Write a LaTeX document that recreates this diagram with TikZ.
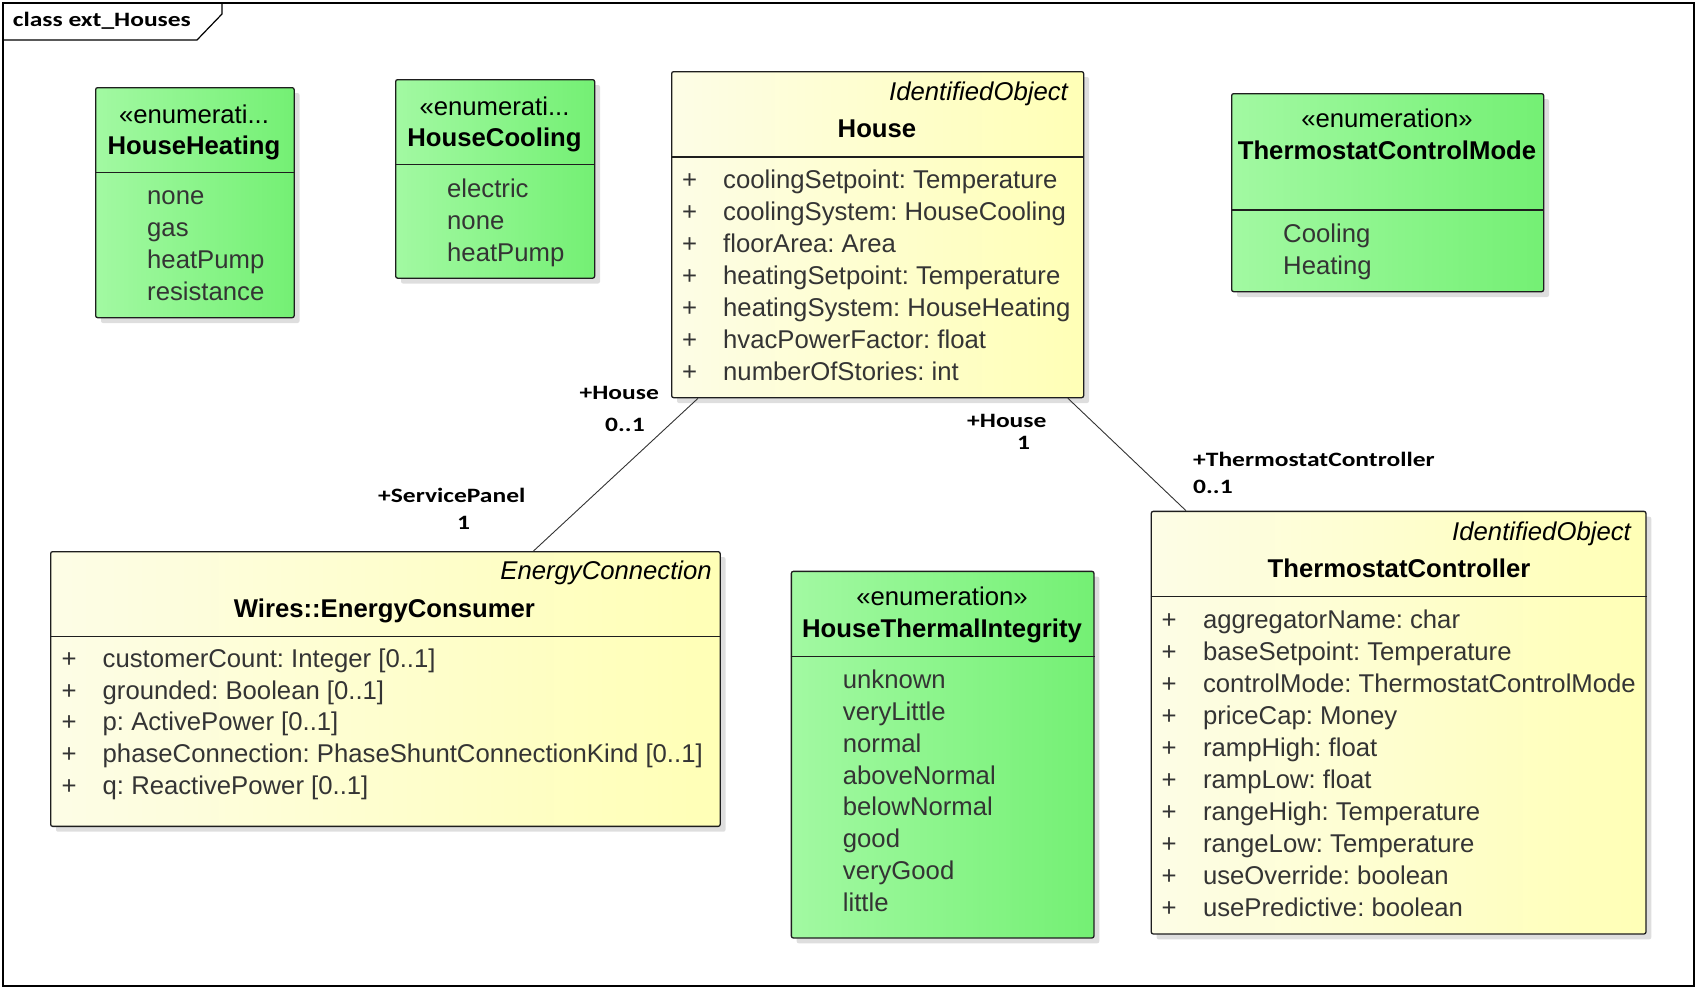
\documentclass[tikz,border=0pt]{standalone}
\usepackage{fontspec}
\usepackage{graphicx}
\setmainfont{Liberation Sans}
\newfontfamily\lblfont{Carlito}
\usetikzlibrary{calc}
\frenchspacing
\definecolor{enumL}{RGB}{162,249,162}
\definecolor{enumR}{RGB}{116,240,116}
\definecolor{clsL}{RGB}{253,253,230}
\definecolor{clsR}{RGB}{255,255,182}
\definecolor{itemc}{RGB}{52,52,52}
\definecolor{shadowc}{RGB}{222,222,222}
\definecolor{edgec}{RGB}{30,30,30}
\tikzset{
  t/.style={inner sep=0pt, font=\fontsize{25.7}{30}\selectfont},
  tl/.style={t, anchor=base west},
  tc/.style={t, anchor=base},
  tr/.style={t, anchor=base east},
  it/.style={tl, text=itemc},
  bx/.style={draw=edgec, line width=1.3pt, rounded corners=2pt, inner sep=0pt, anchor=north west},
  divst/.style={draw=edgec, line width=1.1pt},
  conn/.style={draw=black!80, line width=0.9pt},
  lbl/.style={inner sep=0pt, anchor=base west, font=\fontsize{20.4}{24}\selectfont\lblfont\bfseries},
}
\newcommand\lbltext[1]{\scalebox{1.25}[1]{#1}}
\newcommand\umlbox[7]{%
  \fill[shadowc, rounded corners=2pt] (#2+6,#3+6) rectangle (#2+#4+6,#3+#5+6);
  \node[bx, left color=#6, right color=#7, minimum width=#4, minimum height=#5] (#1) at (#2,#3) {};
}
\begin{document}
\begin{tikzpicture}[x=1pt, y=-1pt]
\useasboundingbox (0,0) rectangle (1696,988);
% frame
\draw[line width=1.2pt] (3,3) rectangle (1694,986);
\draw[line width=1.2pt] (3,40) -- (197,40) -- (222,14) -- (222,3);
\node[lbl] (title) at (12.7,26.7) {\lbltext{class ext\_Houses}};

% ---------- HouseHeating
\umlbox{hh}{95}{87}{198.5}{230}{enumL}{enumR}
\draw[divst] (hh.west |- 0,172.7) -- (hh.east |- 0,172.7);
\node[tc] (hhst) at (194,123) {«enumerati...};
\node[tc] (hhnm) at (194,154) {\bfseries HouseHeating};
\foreach \s [count=\i] in {none,gas,heatPump,resistance}
  \node[it] (hhi\i) at (147,{204+32*(\i-1)}) {\s};

% ---------- HouseCooling
\umlbox{hc}{395}{79}{199}{198.5}{enumL}{enumR}
\draw[divst] (hc.west |- 0,164.3) -- (hc.east |- 0,164.3);
\node[tc] (hcst) at (494.5,115) {«enumerati...};
\node[tc] (hcnm) at (494.5,146) {\bfseries HouseCooling};
\foreach \s [count=\i] in {electric,none,heatPump}
  \node[it] (hci\i) at (447,{197+32*(\i-1)}) {\s};

% ---------- House
\umlbox{house}{671}{71}{412}{326}{clsL}{clsR}
\draw[divst] (house.west |- 0,157) -- (house.east |- 0,157);
\node[tr] (housest) at (1068,100) {\itshape IdentifiedObject};
\node[tc] (housenm) at (877,137) {\bfseries House};
\foreach \s [count=\i] in {coolingSetpoint: Temperature,coolingSystem: HouseCooling,floorArea: Area,heatingSetpoint: Temperature,heatingSystem: HouseHeating,hvacPowerFactor: float,numberOfStories: int}{
  \node[it] (housep\i) at (682,{188+32*(\i-1)}) {+};
  \node[it] (housea\i) at (723,{188+32*(\i-1)}) {\s};
}

% ---------- ThermostatControlMode
\umlbox{tcm}{1231}{93}{312}{198}{enumL}{enumR}
\draw[divst] (tcm.west |- 0,210) -- (tcm.east |- 0,210);
\node[tc] (tcmst) at (1387,127) {«enumeration»};
\node[tc] (tcmnm) at (1387,159) {\bfseries ThermostatControlMode};
\foreach \s [count=\i] in {Cooling,Heating}
  \node[it] (tcmi\i) at (1283,{242+32*(\i-1)}) {\s};

% ---------- Wires::EnergyConsumer
\umlbox{ec}{50}{551}{669.5}{274.7}{clsL}{clsR}
\draw[divst] (ec.west |- 0,636.7) -- (ec.east |- 0,636.7);
\node[tr] (ecst) at (712,579) {\itshape EnergyConnection};
\node[tc] (ecnm) at (384.4,617) {\bfseries Wires::EnergyConsumer};
\foreach \s [count=\i] in {{customerCount: Integer [0..1]},{grounded: Boolean [0..1]},{p: ActivePower [0..1]},{phaseConnection: PhaseShuntConnectionKind [0..1]},{q: ReactivePower [0..1]}}{
  \node[it] (ecp\i) at (61.4,{667.3+31.7*(\i-1)}) {+};
  \node[it] (eca\i) at (102.5,{667.3+31.7*(\i-1)}) {\s};
}

% ---------- HouseThermalIntegrity
\umlbox{hti}{790.7}{570.7}{302.6}{366.6}{enumL}{enumR}
\draw[divst] (hti.west |- 0,656.7) -- (hti.east |- 0,656.7);
\node[tc] (htist) at (942,605.7) {«enumeration»};
\node[tc] (htinm) at (942,637.3) {\bfseries HouseThermalIntegrity};
\foreach \s [count=\i] in {unknown,veryLittle,normal,aboveNormal,belowNormal,good,veryGood,little}
  \node[it] (htii\i) at (842.7,{688.3+31.9*(\i-1)}) {\s};

% ---------- ThermostatController
\umlbox{tc}{1150.6}{510.7}{494.7}{422.6}{clsL}{clsR}
\draw[divst] (tc.west |- 0,596.7) -- (tc.east |- 0,596.7);
\node[tr] (tcst) at (1631,540) {\itshape IdentifiedObject};
\node[tc] (tcnm) at (1399,577.3) {\bfseries ThermostatController};
\foreach \s [count=\i] in {aggregatorName: char,baseSetpoint: Temperature,controlMode: ThermostatControlMode,priceCap: Money,rampHigh: float,rampLow: float,rangeHigh: Temperature,rangeLow: Temperature,useOverride: boolean,usePredictive: boolean}{
  \node[it] (tcp\i) at (1161.3,{628.3+32.04*(\i-1)}) {+};
  \node[it] (tca\i) at (1202.8,{628.3+32.04*(\i-1)}) {\s};
}

% ---------- connectors
\coordinate (c1a) at ($(house.south west)+(27,0)$);
\coordinate (c1b) at ($(ec.north west)+(483.5,0)$);
\draw[conn] (c1a) -- (c1b);
\coordinate (c2a) at ($(house.south east)+(-16.4,0)$);
\coordinate (c2b) at ($(tc.north west)+(35.4,0)$);
\draw[conn] (c2a) -- (c2b);

% ---------- role labels
\node[lbl] (l1) at (579.5,399.3) {\lbltext{+House}};
\node[lbl] (l2) at (605,431) {\lbltext{0..1}};
\node[lbl] (l3) at (378,502.7) {\lbltext{+ServicePanel}};
\node[lbl] (l4) at (457,529.3) {\lbltext{1}};
\node[lbl] (l5) at (967,427.3) {\lbltext{+House}};
\node[lbl] (l6) at (1017,449) {\lbltext{1}};
\node[lbl] (l7) at (1193,466.7) {\lbltext{+ThermostatController}};
\node[lbl] (l8) at (1193,493.3) {\lbltext{0..1}};
\end{tikzpicture}
\end{document}
